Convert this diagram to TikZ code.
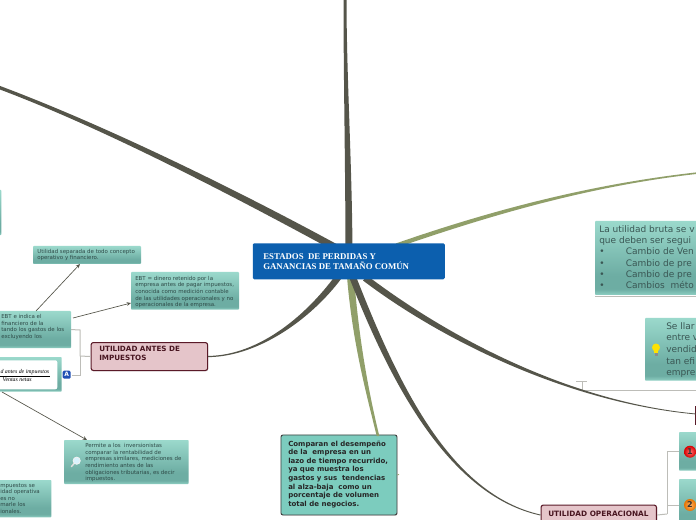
\documentclass[tikz,border=0pt]{standalone}
\usepackage{fontspec}
\setmainfont{DejaVu Sans}
\newfontfamily\titlefont{Liberation Serif}
\usetikzlibrary{calc,shadows,arrows.meta}
\definecolor{branchdark}{HTML}{55554A}
\definecolor{branchgreen}{HTML}{909F69}
\definecolor{linkgrey}{HTML}{BDBDB8}
\definecolor{tealtext}{HTML}{2E4A47}
\definecolor{tealbig}{HTML}{3A5754}
\definecolor{tealA}{HTML}{9BD9CC}
\definecolor{tealB}{HTML}{6DADA3}
\definecolor{tealC}{HTML}{8FD0C3}
\definecolor{pinkfill}{HTML}{E5C5CA}
\definecolor{pinkline}{HTML}{5A1A28}
\definecolor{titleblue}{HTML}{0C5FAE}
\definecolor{solidteal}{HTML}{7CCCBE}
\definecolor{iconblue}{HTML}{1F4FB5}
\pgfdeclareverticalshading{tealshade}{100bp}{color(0bp)=(tealC); color(25bp)=(tealC); color(29bp)=(tealB); color(38bp)=(tealB); color(75bp)=(tealA); color(100bp)=(tealA)}
\newcommand{\taper}[7]{\fill[#1] ($(#2)+(#6)$) .. controls ($(#4)+(#6)$) and ($(#5)+(#7)$) .. ($(#3)+(#7)$) -- ($(#3)-(#7)$) .. controls ($(#5)-(#7)$) and ($(#4)-(#6)$) .. ($(#2)-(#6)$) -- cycle;}
\tikzset{
  x=0.75pt,y=-0.75pt,
  tealbox/.style={shading=tealshade,rounded corners=0.6pt,anchor=north west,inner sep=0pt,outer sep=0pt},
  bigtext/.style={text=tealbig,anchor=north west,inner sep=0pt,align=left},
  smalltext/.style={font=\fontsize{4.1}{4.9}\selectfont,text=tealtext,anchor=north west,inner sep=0pt,align=left},
  pinkbox/.style={draw=pinkline,line width=0.8pt,fill=pinkfill,rounded corners=1.8pt,anchor=north west,inner sep=0pt,drop shadow={opacity=.2,shadow xshift=.5pt,shadow yshift=-.7pt}},
  pinktext/.style={anchor=north west,inner sep=0pt,text=pinkline!80!black,align=left},
  link/.style={draw=linkgrey,line width=0.75pt},
  arrowlink/.style={draw=branchdark,line width=0.5pt,-{Stealth[length=3.2pt,width=2.8pt]}},
  badge/.style={circle,inner sep=0pt,minimum size=9pt,text=black!80,font=\fontsize{6}{6}\selectfont\bfseries},
}
\begin{document}
\begin{tikzpicture}
\useasboundingbox (0,0) rectangle (696,520);
\clip (0,0) rectangle (696,520);
\fill[white] (0,0) rectangle (696,520);

% coordinates
\coordinate (topend) at (345,-2);
\coordinate (leftend) at (-2,87);
\coordinate (rightend) at (698,173);
\coordinate (hub) at (349,262);
\coordinate (hubL) at (342,272);
\coordinate (hubR) at (365,278);
\coordinate (hubG) at (395,246);
\coordinate (hubT) at (340,250);
\coordinate (hubD) at (353,278);
\coordinate (hubS) at (350,270);
\coordinate (jA) at (80,356);
\coordinate (jB) at (667,514);
\coordinate (tee) at (582,390);
\coordinate (sepIn) at (80,264);
\coordinate (ebtIn) at (131,303);
\coordinate (perIn) at (87,440);
\coordinate (ebtOutA) at (36,311);
\coordinate (ebtOutB) at (73,318);
\coordinate (formOut) at (2,392);
\coordinate (compIn) at (378,436);

% main boxes
\node[tealbox,minimum width=40pt,minimum height=33.8pt] (farleft) at (-52,190) {};
\node[tealbox,minimum width=81pt,minimum height=13.5pt] (sep) at (33,246) {};
\node[smalltext] at (37,249) {Utilidad separada de todo concepto\\operativo y financiero.};
\node[tealbox,minimum width=81pt,minimum height=28.3pt] (ebt) at (131,272) {};
\node[smalltext] at (135,276) {EBT = dinero retenido por la\\empresa antes de pagar impuestos,\\conocida como medición contable\\de las utilidades operacionales y no\\operacionales de la empresa.};
\node[tealbox,minimum width=60pt,minimum height=27.8pt] (ebtl) at (-9,311) {};
\node[smalltext] at (1,314.5) {EBT e indica el\\financiero de la\\tando los gastos de los\\excluyendo los};
\node[tealbox,minimum width=52.3pt,minimum height=26pt] (form) at (-8,357) {};
\node[fill=white,rounded corners=1.5pt,anchor=north west,minimum width=46.5pt,minimum height=21.8pt,inner sep=0pt] (formw) at (-5,360) {};
\node[anchor=east,inner sep=0pt,font=\titlefont\itshape\fontsize{4.4}{4.4}\selectfont] (f1) at (49.5,372) {d antes de impuestos};
\draw[line width=.3pt] (0,376) -- (49.5,376);
\node[anchor=east,inner sep=0pt,font=\titlefont\itshape\fontsize{4.4}{4.4}\selectfont] (f2) at (32,379.8) {Ventas netas};
\node[tealbox,minimum width=93.5pt,minimum height=33pt] (per) at (64,440) {};
\node[smalltext] at (85,443.5) {Permite a los\ \ inversionistas\\comparar la rentabilidad de\\empresas similares, mediciones de\\rendimiento antes de las\\obligaciones tributarias, es decir\\impuestos.};
\node[tealbox,minimum width=40pt,minimum height=28pt] (low) at (-2,480) {};
\node[smalltext] at (0,483) {mpuestos se\\idad operativa\\es no\\marle los\\ionales.};

\node[pinkbox,minimum width=87.5pt,minimum height=21pt] (antes) at (90.5,342) {};
\node[pinktext,font=\fontsize{5.4}{6.9}\selectfont\bfseries] at (99,346) {UTILIDAD ANTES DE\\IMPUESTOS};

\node[draw=black!75,line width=.7pt,fill=solidteal,rounded corners=1.5pt,anchor=north west,minimum width=87pt,minimum height=60pt,inner sep=0pt,drop shadow={opacity=.2,shadow xshift=.5pt,shadow yshift=-.7pt}] (comp) at (280.5,434.5) {};
\node[anchor=north west,inner sep=0pt,font=\fontsize{5.25}{6.43}\selectfont\bfseries,text=black!85,align=left] at (288,440.5) {Comparan el desempeño\\de la\ \ empresa en un\\lazo de tiempo recurrido,\\ya que muestra los\\gastos y sus\ \ tendencias\\al alza-baja\ \ como un\\porcentaje de volumen\\total de negocios.};

\node[tealbox,minimum width=90pt,minimum height=55.5pt] (bruta) at (595,221) {};
\draw[linkgrey,line width=.5pt] (595,296) -- (696,296);
\node[bigtext,font=\fontsize{6.75}{8.5}\selectfont] at (599,225) {La utilidad bruta se v\\que deben ser segui\\•\hspace{16pt}Cambio de Ven\\•\hspace{16pt}Cambio de pre\\•\hspace{16pt}Cambio de pre\\•\hspace{16pt}Cambios\ \ méto};
\node[tealbox,minimum width=50pt,minimum height=47pt] (llar) at (645,318) {};
\node[bigtext,font=\fontsize{6.75}{8.75}\selectfont] at (666,322) {Se llar\\entre v\\vendid\\tan efi\\empre};
\node[tealbox,minimum width=20pt,minimum height=29pt] (one) at (679,432) {};
\node[tealbox,minimum width=20pt,minimum height=35pt] (two) at (679,479) {};
\node[pinkbox,minimum width=86.6pt,minimum height=15pt] (oper) at (540.5,504.5) {};
\node[pinktext,font=\fontsize{5.5}{6}\selectfont\bfseries] at (548,510.5) {UTILIDAD OPERACIONAL};
\fill[pinkline] (695,406) rectangle (697,425);
\coordinate (darknode) at (696,414);

% connectors
\draw[link] (ebtl.east) -- (80,330) -- (jA);
\draw[link] (jA) -- (antes.west);
\draw[link] (72,375) -- (80,375) -- (jA);
\draw[link] (576,381) -- (587,381) (582,381) -- (tee) -- (697,390);
\draw[link] (oper.east) -- (jB);
\draw[link] (667,451.7) -- (679,451.7) (667,505) -- (679,505) (667,451.7) -- (jB);
\draw[branchgreen,line width=.6pt] (comp.east) -- (399,474.5);
\draw[arrowlink] (ebtOutA) -- (sepIn);
\draw[arrowlink] (ebtOutB) -- (ebtIn);
\draw[arrowlink] (formOut) -- (perIn);

% branches
\taper{branchdark}{hub}{topend}{349,170}{345,80}{3.5,0}{1.5,0}
\taper{branchdark}{hubT}{leftend}{230,190}{100,125}{2,-3}{0.5,-1.6}
\taper{branchgreen}{hubG}{rightend}{490,213}{590,185}{1,-2.6}{0,-0.8}
\taper{branchdark}{hubL}{antes.east}{312,315}{260,356}{3,1.5}{0,0.6}
\taper{branchgreen}{hubS}{compIn}{355,340}{368,395}{3.5,0}{1.3,0}
\taper{branchdark}{hubD}{oper.west}{395,385}{450,495}{3.2,-1}{0.3,-0.4}
\taper{branchdark}{hubR}{darknode}{440,335}{565,402}{2,-2.5}{0,-0.4}

% title
\node[fill=titleblue,rounded corners=1pt,anchor=north west,minimum width=144pt,minimum height=27pt,inner sep=0pt] (center) at (252.5,243) {};
\node[anchor=north west,inner sep=0pt,text=white,font=\titlefont\bfseries\fontsize{6.6}{7.5}\selectfont,align=left] at (263,253) {ESTADOS\ \ DE PERDIDAS Y\\GANANCIAS DE TAMAÑO COMÚN};

% icons
\node[fill=iconblue,rounded corners=1pt,inner sep=0pt,minimum size=6pt,text=white,font=\fontsize{4.5}{4.5}\selectfont\bfseries] (iconA) at (66.7,374.7) {A};
\draw[white!75!gray,line width=1.1pt,line cap=round] (71.5,466.5) -- (75,462.5);
\draw[white!90!gray,fill=white!85!cyan,line width=.6pt] (76.7,460.7) circle (3.6);
\fill[yellow!85!orange] (656,347.5) circle (4);
\fill[yellow!85!orange] (654,349) rectangle (658,352.5);
\fill[black!45] (654.5,352.5) rectangle (657.5,355.5);
\node[badge,shading=radial,inner color=red!55!white,outer color=red!85!black] (b1) at (690,451.7) {1};
\node[badge,shading=radial,inner color=orange!60!white,outer color=orange!90!black] (b2) at (690,505) {2};
\end{tikzpicture}
\end{document}
